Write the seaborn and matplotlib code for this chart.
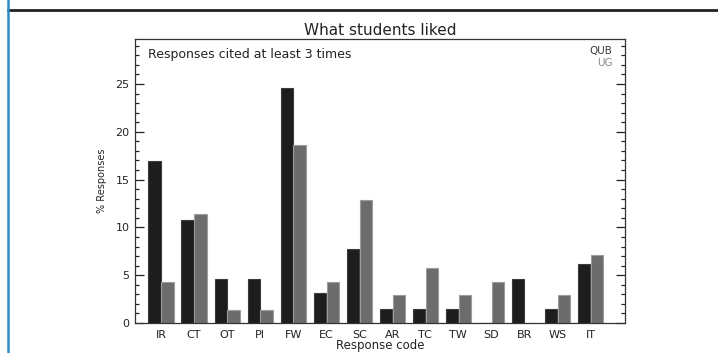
import matplotlib
matplotlib.use("Agg")
import matplotlib.pyplot as plt
from matplotlib.lines import Line2D
from matplotlib.ticker import MultipleLocator
import pandas as pd
import seaborn as sns

# Response codes and percentage of responses for each group
codes = ["IR", "CT", "OT", "PI", "FW", "EC", "SC", "AR", "TC", "TW", "SD", "BR", "WS", "IT"]
qub_pct = [16.9, 10.8, 4.6, 4.6, 24.6, 3.1, 7.7, 1.5, 1.5, 1.5, 0.0, 4.6, 1.5, 6.2]
ug_pct = [4.3, 11.4, 1.4, 1.4, 18.6, 4.3, 12.9, 2.9, 5.7, 2.9, 4.3, 0.0, 2.9, 7.1]
groups = ["QUB", "UG"]

df = pd.DataFrame({
    "code": codes * 2,
    "pct": qub_pct + ug_pct,
    "group": [groups[0]] * len(codes) + [groups[1]] * len(codes),
})

sns.set_theme(style="white")
plt.rcParams["font.family"] = ["DejaVu Sans"]

fig = plt.figure(figsize=(7.18, 3.53), dpi=100)
ax = fig.add_axes([135 / 718, 1 - 323 / 353, 490 / 718, 284 / 353])

bar_black = "#1d1d1d"
bar_gray = "#6c6c6c"
sns.barplot(data=df, x="code", y="pct", hue="group", order=codes,
            hue_order=groups, palette=[bar_black, bar_gray],
            width=0.78, gap=0.04, linewidth=0.8, saturation=1,
            legend=False, ax=ax)

# lighter outlines on the bars
for cont, ec in zip(ax.containers, ["#3c3c3c", "#9c9c9c"]):
    for p in cont:
        p.set_edgecolor(ec)

ax.set_xlim(-0.79, 14.045)
ax.set_ylim(0, 29.7)

ax.yaxis.set_major_locator(MultipleLocator(5))
ax.yaxis.set_minor_locator(MultipleLocator(1))
ax.tick_params(axis="y", which="both", direction="in", left=True, right=True,
               labelleft=True, labelright=False, colors="#222222",
               labelsize=8, pad=4, width=0.9)
ax.tick_params(axis="y", which="major", length=6.5)
ax.tick_params(axis="y", which="minor", length=3.2)
ax.tick_params(axis="x", length=0, pad=5, labelsize=8, colors="#222222")

for s in ax.spines.values():
    s.set_visible(True)
    s.set_color("#333333")
    s.set_linewidth(0.9)

ax.set_title("What students liked", fontsize=11, color="#222222", pad=3)
ax.set_xlabel("Response code", fontsize=8.5, color="#222222")
ax.set_ylabel("% Responses", fontsize=7, color="#222222")
ax.xaxis.set_label_coords(0.5, -0.058)
ax.xaxis.label.set_va("top")
ax.yaxis.set_label_coords(-0.067, 0.5)
ax.yaxis.label.set_va("center")

ax.text(0.0265, 0.944, "Responses cited at least 3 times", transform=ax.transAxes,
        fontsize=9, color="#222222", va="center", ha="left")
# group key in the upper right corner
ax.text(0.9745, 0.9575, "QUB", transform=ax.transAxes, fontsize=7.5,
        color="#3a3a3a", ha="right", va="center")
ax.text(0.9745, 0.9155, "UG", transform=ax.transAxes, fontsize=7.5,
        color="#8a8a8a", ha="right", va="center")

# page frame lines around the figure
fig.add_artist(Line2D([8 / 718, 1], [1 - 10 / 353, 1 - 10 / 353],
                      transform=fig.transFigure, color="#222222", lw=2.0))
fig.add_artist(Line2D([8 / 718, 8 / 718], [0, 1],
                      transform=fig.transFigure, color="#2a8ec4", lw=1.8))

fig.savefig("out.png", dpi=100)
